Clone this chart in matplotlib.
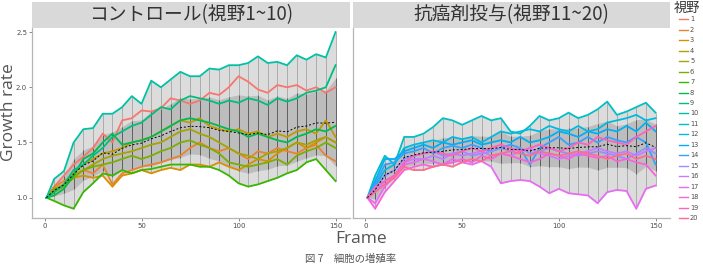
import numpy as np
import matplotlib
matplotlib.use("Agg")
import matplotlib.pyplot as plt
from matplotlib.patches import Rectangle
from matplotlib.lines import Line2D

plt.rcParams['font.family'] = ['Noto Sans CJK JP', 'DejaVu Sans']

# ---------------- data ----------------
frames = [1, 5, 10, 15, 20, 25, 30, 35, 40, 45, 50, 55, 60, 65, 70, 75,
          80, 85, 90, 95, 100, 105, 110, 115, 120, 125, 130, 135, 140, 145, 150]

s1 = [1.0, 1.1, 1.2, 1.3, 1.37, 1.45, 1.58, 1.5, 1.7, 1.72, 1.79, 1.78, 1.81, 1.9, 1.88, 1.85,
      1.88, 1.95, 1.93, 2.0, 2.1, 2.05, 1.98, 1.95, 2.02, 2.0, 2.02, 1.97, 2.0, 1.95, 2.0]
s2 = [1.0, 1.1, 1.15, 1.2, 1.25, 1.22, 1.3, 1.12, 1.22, 1.25, 1.28, 1.3, 1.32, 1.35, 1.38, 1.45,
      1.5, 1.45, 1.42, 1.45, 1.4, 1.35, 1.42, 1.4, 1.45, 1.42, 1.4, 1.45, 1.48, 1.38, 1.33]
s3 = [1.0, 1.05, 1.12, 1.18, 1.2, 1.18, 1.2, 1.1, 1.2, 1.22, 1.25, 1.22, 1.25, 1.27, 1.25, 1.3,
      1.3, 1.28, 1.32, 1.28, 1.25, 1.3, 1.35, 1.33, 1.4, 1.45, 1.5, 1.45, 1.5, 1.55, 1.5]
s4 = [1.0, 1.08, 1.12, 1.22, 1.3, 1.35, 1.4, 1.42, 1.45, 1.5, 1.52, 1.55, 1.6, 1.65, 1.7, 1.68,
      1.72, 1.65, 1.62, 1.6, 1.62, 1.58, 1.6, 1.55, 1.58, 1.55, 1.6, 1.62, 1.58, 1.7, 1.55]
s5 = [1.0, 1.05, 1.1, 1.2, 1.25, 1.3, 1.35, 1.38, 1.4, 1.42, 1.45, 1.48, 1.5, 1.55, 1.6, 1.62,
      1.58, 1.55, 1.5, 1.45, 1.4, 1.38, 1.35, 1.4, 1.42, 1.45, 1.5, 1.48, 1.52, 1.55, 1.5]
s6 = [1.0, 1.08, 1.1, 1.18, 1.25, 1.28, 1.3, 1.32, 1.35, 1.38, 1.35, 1.38, 1.42, 1.45, 1.5, 1.52,
      1.48, 1.45, 1.4, 1.32, 1.3, 1.28, 1.3, 1.32, 1.35, 1.3, 1.38, 1.42, 1.45, 1.5, 1.45]
s7 = [1.0, 0.97, 0.93, 0.9, 1.05, 1.13, 1.22, 1.2, 1.25, 1.22, 1.25, 1.26, 1.28, 1.3, 1.3, 1.3,
      1.28, 1.28, 1.25, 1.2, 1.13, 1.1, 1.12, 1.15, 1.18, 1.22, 1.25, 1.32, 1.35, 1.25, 1.15]
s8 = [1.0, 1.02, 1.08, 1.2, 1.35, 1.4, 1.5, 1.58, 1.48, 1.5, 1.52, 1.55, 1.6, 1.65, 1.7, 1.72,
      1.7, 1.68, 1.65, 1.62, 1.6, 1.55, 1.58, 1.55, 1.52, 1.5, 1.55, 1.58, 1.62, 1.6, 1.65]
s9 = [1.0, 1.05, 1.12, 1.25, 1.3, 1.38, 1.45, 1.55, 1.6, 1.65, 1.68, 1.75, 1.82, 1.8, 1.88, 1.92,
      1.9, 1.88, 1.85, 1.88, 1.86, 1.9, 1.88, 1.84, 1.9, 1.87, 1.9, 1.95, 1.97, 2.0, 2.2]
s10 = [1.0, 1.17, 1.24, 1.5, 1.62, 1.63, 1.76, 1.76, 1.82, 1.92, 1.85, 2.06, 2.0, 2.07, 2.14, 2.1,
       2.1, 2.17, 2.16, 2.2, 2.2, 2.22, 2.28, 2.22, 2.23, 2.2, 2.29, 2.25, 2.3, 2.27, 2.5]

s11 = [1.0, 1.2, 1.38, 1.3, 1.55, 1.55, 1.58, 1.64, 1.72, 1.7, 1.66, 1.7, 1.74, 1.7, 1.72, 1.6,
       1.58, 1.65, 1.74, 1.7, 1.72, 1.77, 1.72, 1.75, 1.8, 1.87, 1.75, 1.78, 1.82, 1.86, 1.77]
s12 = [1.0, 1.1, 1.25, 1.3, 1.45, 1.48, 1.5, 1.52, 1.5, 1.55, 1.53, 1.55, 1.5, 1.55, 1.6, 1.58,
       1.6, 1.62, 1.6, 1.65, 1.62, 1.6, 1.65, 1.6, 1.62, 1.68, 1.7, 1.72, 1.75, 1.7, 1.72]
s13 = [1.0, 1.15, 1.35, 1.35, 1.42, 1.45, 1.48, 1.45, 1.5, 1.48, 1.5, 1.52, 1.48, 1.5, 1.52, 1.5,
       1.55, 1.5, 1.52, 1.55, 1.6, 1.58, 1.55, 1.6, 1.58, 1.62, 1.6, 1.65, 1.6, 1.68, 1.6]
s14 = [1.0, 1.12, 1.3, 1.32, 1.4, 1.42, 1.45, 1.4, 1.45, 1.47, 1.45, 1.48, 1.45, 1.42, 1.45, 1.48,
       1.45, 1.3, 1.45, 1.5, 1.55, 1.48, 1.5, 1.55, 1.5, 1.55, 1.52, 1.5, 1.55, 1.5, 1.3]
s15 = [1.0, 1.08, 1.2, 1.25, 1.35, 1.38, 1.4, 1.42, 1.38, 1.4, 1.42, 1.38, 1.4, 1.42, 1.45, 1.42,
       1.45, 1.4, 1.42, 1.45, 1.42, 1.4, 1.38, 1.4, 1.42, 1.4, 1.38, 1.35, 1.4, 1.45, 1.4]
s16 = [1.0, 1.05, 1.15, 1.2, 1.32, 1.35, 1.35, 1.38, 1.35, 1.4, 1.38, 1.4, 1.42, 1.38, 1.4, 1.38,
       1.42, 1.45, 1.4, 1.38, 1.35, 1.38, 1.4, 1.42, 1.45, 1.42, 1.4, 1.42, 1.38, 1.42, 1.45]
s17 = [1.0, 0.95, 1.1, 1.2, 1.3, 1.32, 1.35, 1.33, 1.3, 1.35, 1.32, 1.3, 1.33, 1.28, 1.13, 1.15,
       1.16, 1.15, 1.1, 1.04, 1.08, 1.04, 1.03, 1.02, 0.95, 1.05, 1.07, 1.06, 0.9, 1.08, 1.11]
s18 = [1.0, 0.9, 1.05, 1.15, 1.25, 1.28, 1.3, 1.28, 1.3, 1.32, 1.35, 1.32, 1.38, 1.35, 1.4, 1.38,
       1.35, 1.32, 1.35, 1.4, 1.38, 1.35, 1.4, 1.38, 1.36, 1.38, 1.33, 1.35, 1.32, 1.3, 1.2]
s19 = [1.0, 1.1, 1.15, 1.2, 1.32, 1.38, 1.4, 1.42, 1.4, 1.38, 1.42, 1.45, 1.42, 1.45, 1.48, 1.45,
       1.42, 1.45, 1.48, 1.45, 1.42, 1.45, 1.5, 1.48, 1.55, 1.52, 1.5, 1.48, 1.55, 1.6, 1.65]
s20 = [1.0, 1.05, 1.12, 1.18, 1.28, 1.25, 1.25, 1.28, 1.3, 1.28, 1.32, 1.35, 1.33, 1.38, 1.4, 1.42,
       1.4, 1.38, 1.42, 1.4, 1.38, 1.4, 1.42, 1.4, 1.38, 1.35, 1.38, 1.4, 1.35, 1.38, 1.35]

field_labels = [str(i) for i in range(1, 21)]
control_series = [s1, s2, s3, s4, s5, s6, s7, s8, s9, s10]
drug_series = [s11, s12, s13, s14, s15, s16, s17, s18, s19, s20]
panel_titles = ["コントロール(視野1~10)", "抗癌剤投与(視野11~20)"]
x_ticks = [0, 50, 100, 150]
y_ticks = [1.0, 1.5, 2.0, 2.5]

colors = ["#F8766D", "#EA8331", "#D89000", "#C09B00", "#A3A500", "#7CAE00", "#39B600",
          "#00BB4E", "#00BF7D", "#00C1A3", "#00BFC4", "#00BAE0", "#00B0F6", "#35A2FF",
          "#9590FF", "#C77CFF", "#E76BF3", "#FA62DB", "#FF62BC", "#FF6C91"]

# ---------------- figure ----------------
W, H = 703, 264
fig = plt.figure(figsize=(W / 100, H / 100), dpi=100)

def box(x0, y0, x1, y1):
    return [x0 / W, 1 - y1 / H, (x1 - x0) / W, (y1 - y0) / H]

axL = fig.add_axes(box(32, 28, 350, 218.3))
axR = fig.add_axes(box(353, 28, 670, 218.3))

fx = np.array(frames)
for k, (ax, group) in enumerate([(axL, control_series), (axR, drug_series)]):
    arr = np.array(group)
    lo, hi = arr.min(axis=0), arr.max(axis=0)
    mu, sd = arr.mean(axis=0), arr.std(axis=0)
    ax.fill_between(fx, lo, hi, color="#DCDCDC", lw=0, zorder=1)
    ax.fill_between(fx, mu - sd, mu + sd, color="#BDBDBD", lw=0, zorder=1.2)
    ax.vlines(fx, lo, hi, color="#A5A5A5", lw=0.6, zorder=1.5)
    ax.vlines(fx, mu - sd, mu + sd, color="#444444", lw=0.5, zorder=1.6)
    for j, s in enumerate(group):
        ax.plot(fx, s, color=colors[k * 10 + j], lw=1.3, zorder=2, solid_joinstyle="round")
    ax.plot(fx, mu, color="black", lw=0.7, ls=(0, (2, 2)), zorder=3)

    ax.set_xlim(-6.45, 157.45)
    ax.set_ylim(0.813, 2.537)
    ax.set_xticks(x_ticks)
    ax.set_xticklabels([str(t) for t in x_ticks], fontsize=5, color="#4D4D4D",
                       family="DejaVu Sans")
    ax.set_yticks(y_ticks)
    for sp in ["top", "right"]:
        ax.spines[sp].set_visible(False)
    for sp in ["left", "bottom"]:
        ax.spines[sp].set_color("#B5B5B5")
        ax.spines[sp].set_linewidth(0.9)
    ax.tick_params(length=2, width=0.6, color="#777777", pad=1.5)
    if k == 0:
        ax.set_yticklabels([f"{t:.1f}" for t in y_ticks], fontsize=5, color="#4D4D4D",
                           family="DejaVu Sans")
    else:
        ax.set_yticklabels([])
        ax.tick_params(axis="y", length=0)

    # strip
    x0 = 32 if k == 0 else 353
    x1 = 350 if k == 0 else 670
    fig.add_artist(Rectangle((x0 / W, 1 - 28 / H), (x1 - x0) / W, 26 / H,
                             transform=fig.transFigure, facecolor="#D9D9D9",
                             edgecolor="none"))
    fig.text((x0 + x1) / 2 / W, 1 - 15 / H, panel_titles[k], ha="center", va="center",
             fontsize=13.5, color="#333333")

# axis titles
fig.text(9 / W, 1 - 112 / H, "Growth rate", rotation=90, ha="center", va="center",
         fontsize=12.5, color="#555555", family=["Open Sans", "DejaVu Sans"])
fig.text(361 / W, 1 - 239 / H, "Frame", ha="center", va="center",
         fontsize=12.5, color="#555555", family=["Open Sans", "DejaVu Sans"])

# caption (kept fully inside the canvas, near the bottom edge)
fig.text(305 / W, 1 - 263.5 / H, "図 7　細胞の増殖率", ha="left", va="bottom",
         fontsize=7.5, color="#555555")

# legend (manual)
fig.text(687 / W, 1 - 8 / H, "視野", ha="center", va="center", fontsize=9.5, color="#333333")
for i, lab in enumerate(field_labels):
    yy = 1 - (19.3 + i * 10.46) / H
    fig.add_artist(Line2D([679 / W, 688 / W], [yy, yy], color=colors[i], lw=1.0,
                          transform=fig.transFigure))
    fig.text(690 / W, yy, lab, ha="left", va="center", fontsize=4.8, color="#4D4D4D",
             family="DejaVu Sans")

fig.savefig("out.png", dpi=100)
